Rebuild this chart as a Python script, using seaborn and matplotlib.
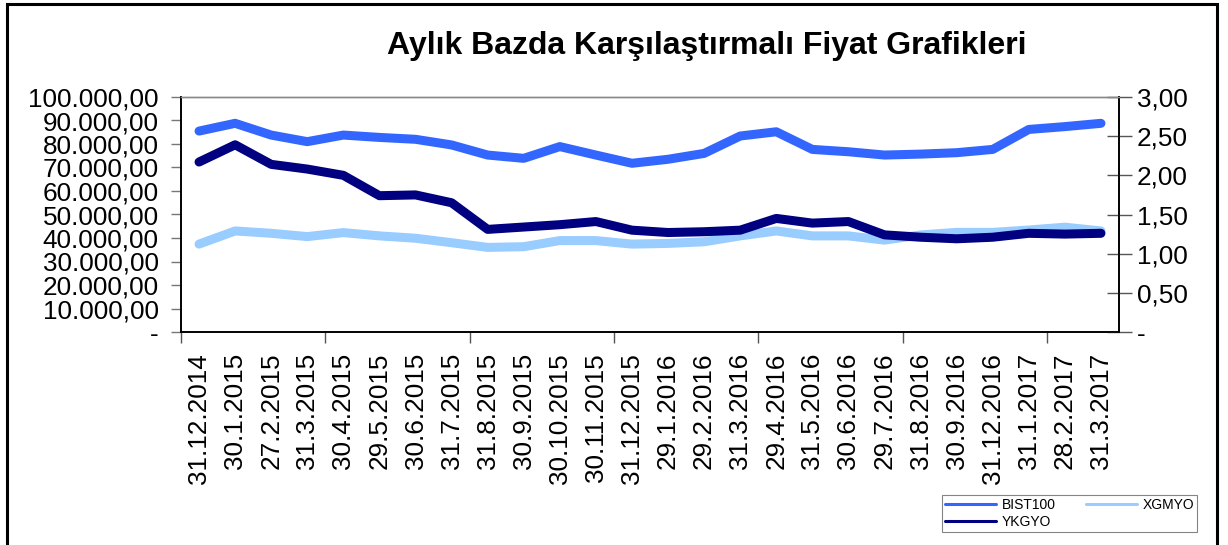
import matplotlib
matplotlib.use("Agg")

import matplotlib.pyplot as plt
from matplotlib.patches import Rectangle
from matplotlib.ticker import FuncFormatter, FixedLocator
import numpy as np
import pandas as pd
import seaborn as sns

# ------------------------------------------------------------
# Data
# ------------------------------------------------------------

dates = [
    "31.12.2014", "30.1.2015", "27.2.2015", "31.3.2015", "30.4.2015",
    "29.5.2015", "30.6.2015", "31.7.2015", "31.8.2015", "30.9.2015",
    "30.10.2015", "30.11.2015", "31.12.2015", "29.1.2016", "29.2.2016",
    "31.3.2016", "29.4.2016", "31.5.2016", "30.6.2016", "29.7.2016",
    "31.8.2016", "30.9.2016", "31.12.2016", "31.1.2017", "28.2.2017",
    "31.3.2017",
]

bist100 = [
    85500, 88800, 83800, 81000, 83800, 82800, 82000, 79600, 75300, 73900,
    78900, 75300, 71800, 73500, 76000, 83400, 85200, 77700, 76700, 75300,
    75700, 76300, 77700, 86200, 87400, 88800,
]

xgmyo = [
    37400, 43000, 42000, 40600, 42300, 40900, 39900, 38000, 36000, 36300,
    38900, 38900, 37400, 37700, 38400, 40900, 43000, 40900, 40900, 39100,
    41300, 42400, 42400, 43400, 44600, 43000,
]

ykgyo = [
    2.17, 2.39, 2.14, 2.08, 2.00, 1.74, 1.75, 1.65, 1.31, 1.34,
    1.37, 1.41, 1.30, 1.27, 1.28, 1.30, 1.45, 1.39, 1.41, 1.24,
    1.21, 1.19, 1.21, 1.26, 1.25, 1.26,
]

df = pd.DataFrame({
    "pos": np.arange(len(dates)),
    "BIST100": bist100,
    "XGMYO": xgmyo,
    "YKGYO": ykgyo,
})

colors = {"BIST100": "#3366FF", "XGMYO": "#99CCFF", "YKGYO": "#000080"}

# ------------------------------------------------------------
# Figure
# ------------------------------------------------------------

sns.set_style("white")
plt.rcParams["font.family"] = ["Liberation Sans", "DejaVu Sans"]
plt.rcParams["text.color"] = "black"
plt.rcParams["xtick.labelcolor"] = "black"
plt.rcParams["ytick.labelcolor"] = "black"

fig = plt.figure(figsize=(12.28, 5.45), dpi=100)
ax = fig.add_axes([181 / 1228, 1 - 332 / 545, 938 / 1228, 235 / 545])
ax2 = ax.twinx()

sns.lineplot(data=df, x="pos", y="BIST100", ax=ax, color=colors["BIST100"],
             linewidth=6.5, solid_capstyle="round", label="BIST100", legend=False)
sns.lineplot(data=df, x="pos", y="XGMYO", ax=ax, color=colors["XGMYO"],
             linewidth=6.5, solid_capstyle="round", label="XGMYO", legend=False)
sns.lineplot(data=df, x="pos", y="YKGYO", ax=ax2, color=colors["YKGYO"],
             linewidth=6.5, solid_capstyle="round", label="YKGYO", legend=False)

ax.set_xlim(-0.5, len(dates) - 0.5)
ax.set_ylim(0, 100000)
ax2.set_ylim(0, 3)

# x axis: labels at category centres, tick marks at every 4th boundary
ax.xaxis.set_major_locator(FixedLocator(df["pos"].tolist()))
ax.set_xticklabels(dates, rotation=90, fontsize=18.8)
ax.xaxis.set_minor_locator(FixedLocator(np.arange(-0.5, len(dates), 4)))
ax.tick_params(axis="x", which="major", length=0, pad=15, labelcolor="black")
ax.tick_params(axis="x", which="minor", length=8, width=1, color="#555555",
               direction="out", bottom=True)
ax.set_xlabel("")


def tr_left(v, _):
    if v == 0:
        return "-"
    return f"{v:,.2f}".replace(",", "X").replace(".", ",").replace("X", ".")


def tr_right(v, _):
    if v == 0:
        return "-"
    return f"{v:.2f}".replace(".", ",")


ax.set_yticks(np.arange(0, 100001, 10000))
ax.yaxis.set_major_formatter(FuncFormatter(tr_left))
ax.tick_params(axis="y", labelsize=18.8, length=7, width=1, color="#777777",
               direction="out", pad=9, left=True, labelcolor="black")
ax.set_ylabel("")

ax2.set_yticks(np.arange(0, 3.01, 0.5))
ax2.yaxis.set_major_formatter(FuncFormatter(tr_right))
ax2.tick_params(axis="y", labelsize=18.8, length=18, width=1, color="#555555",
                direction="inout", pad=4, right=True, labelcolor="black")
ax2.set_ylabel("")

for a in (ax, ax2):
    for side in ("left", "right", "bottom"):
        a.spines[side].set_color("black")
        a.spines[side].set_linewidth(1.2)
    a.spines["top"].set_color("#888888")
    a.spines["top"].set_linewidth(1.0)
    a.grid(False)

# Title
fig.text(707 / 1228, 1 - 46 / 545, "Aylık Bazda Karşılaştırmalı Fiyat Grafikleri",
         ha="center", va="center", fontsize=23, fontweight="bold", color="black")

# Legend
h1, l1 = ax.get_legend_handles_labels()
h2, l2 = ax2.get_legend_handles_labels()
handles = {lab: h for h, lab in zip(h1 + h2, l1 + l2)}
order = ["BIST100", "YKGYO", "XGMYO"]
leg = fig.legend([handles[k] for k in order], order, ncol=2,
                 loc="lower left", bbox_to_anchor=(942 / 1228, 13 / 545, 255 / 1228, 37 / 545),
                 mode="expand", fontsize=10, handlelength=3.7, handletextpad=0.4,
                 columnspacing=1.4, borderpad=0.2, labelspacing=0.25,
                 frameon=True, fancybox=False, borderaxespad=0, labelcolor="black")
leg.get_frame().set_edgecolor("#666666")
leg.get_frame().set_linewidth(0.8)
for line in leg.get_lines():
    line.set_linewidth(2.2)

# Outer chart frame
fig.patches.append(Rectangle((7 / 1228, -0.05), 1210 / 1228, 1.05 - 4 / 545,
                             transform=fig.transFigure, fill=False,
                             edgecolor="black", linewidth=2.2))

fig.savefig("out.png", dpi=100)
plt.close(fig)
